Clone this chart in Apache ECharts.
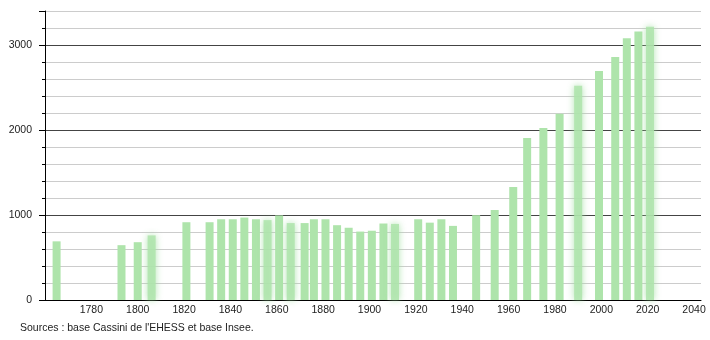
<!DOCTYPE html>
<html>
<head>
<meta charset="utf-8">
<script src="https://cdn.jsdelivr.net/npm/echarts@6/dist/echarts.min.js"></script>
<style>html,body{margin:0;padding:0;background:#fff}#c{width:710px;height:340px}</style>
</head>
<body>
<div id="c"></div>
<script>
const years = [1765, 1793, 1800, 1806, 1821, 1831, 1836, 1841, 1846, 1851, 1856, 1861, 1866, 1872, 1876, 1881, 1886, 1891, 1896, 1901, 1906, 1911, 1921, 1926, 1931, 1936, 1946, 1954, 1962, 1968, 1975, 1982, 1990, 1999, 2006, 2011, 2016, 2021];
const population = [690, 645, 680, 760, 915, 915, 950, 950, 970, 950, 940, 995, 905, 905, 950, 950, 880, 850, 805, 815, 900, 895, 950, 910, 950, 872, 998, 1060, 1330, 1905, 2025, 2190, 2520, 2695, 2860, 3080, 3160, 3215];
const softYears = [1806, 1856, 1866, 1911, 1990, 2021];
const xTickLabels = [1780, 1800, 1820, 1840, 1860, 1880, 1900, 1920, 1940, 1960, 1980, 2000, 2020, 2040];
const yTickLabels = [0, 1000, 2000, 3000];
const sourceText = "Sources : base Cassini de l'EHESS et base Insee.";

const barColor = '#aee4ab';
const font = "'Liberation Sans', Arial, sans-serif";

const data = years.map((y, i) => {
  const item = { value: [y, population[i]] };
  if (softYears.indexOf(y) >= 0) {
    item.itemStyle = { shadowBlur: 7, shadowColor: 'rgba(160,222,160,0.95)', opacity: 0.85 };
  }
  return item;
});

const chart = echarts.init(document.getElementById('c'), null, { renderer: 'canvas' });
chart.setOption({
  animation: false,
  backgroundColor: '#fff',
  grid: { left: 45, right: 9, top: 11, bottom: 40 },
  xAxis: {
    type: 'value', min: 1760, max: 2043, interval: 20,
    axisLine: { show: true, lineStyle: { color: '#000', width: 1 } },
    axisTick: { show: false },
    splitLine: { show: false },
    axisLabel: {
      show: true, margin: 5, color: '#222', fontSize: 10.5, fontFamily: font,
      showMinLabel: false, showMaxLabel: true,
      formatter: v => (xTickLabels.indexOf(v) >= 0 ? String(v) : '')
    }
  },
  yAxis: [
    {
      type: 'value', min: 0, max: 3400, interval: 200,
      axisLine: { show: false },
      axisTick: { show: true, length: 3, lineStyle: { color: '#000' } },
      axisLabel: { show: false },
      splitLine: { show: true, lineStyle: { color: ['rgba(0,0,0,0)', '#cccccc', '#cccccc', '#cccccc', '#cccccc'], width: 1 } }
    },
    {
      type: 'value', min: 0, max: 3400, interval: 1000, position: 'left', offset: 0,
      axisLine: { show: true, lineStyle: { color: '#000', width: 1 } },
      axisTick: { show: true, length: 6, lineStyle: { color: '#000' } },
      axisLabel: {
        show: true, margin: 13, color: '#222', fontSize: 10.5, fontFamily: font,
        formatter: v => (yTickLabels.indexOf(v) >= 0 ? String(v) : '')
      },
      splitLine: { show: true, lineStyle: { color: ['#444', '#444', '#444', '#444', '#cccccc'], width: 1 } }
    }
  ],
  series: [{
    type: 'bar',
    yAxisIndex: 1,
    barWidth: 8,
    data: data,
    itemStyle: { color: barColor }
  }],
  graphic: [{
    type: 'text', left: 20, top: 323,
    style: { text: sourceText, font: '10.5px ' + font, fill: '#222' }
  }]
});
</script>
</body>
</html>
